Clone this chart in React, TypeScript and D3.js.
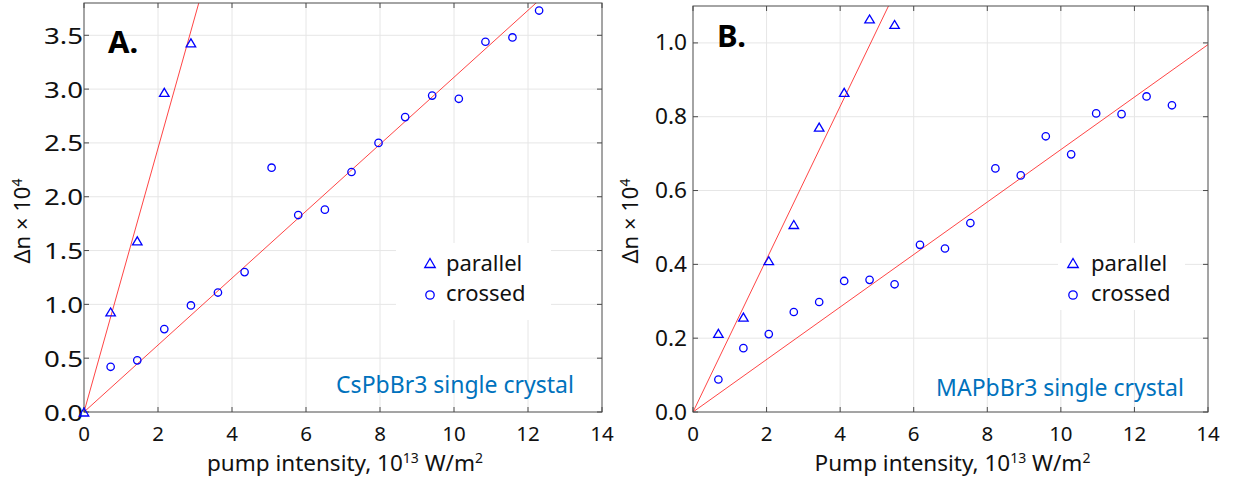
import { scaleLinear, line, format } from "d3";

const fontFamily = "'Noto Sans', 'Open Sans', sans-serif";

const xTicks = [0, 2, 4, 6, 8, 10, 12, 14];

// panel A: CsPbBr3
const pumpParallelA = [0, 0.72, 1.44, 2.17, 2.89];
const dnParallelA = [0, 0.93, 1.59, 2.97, 3.43];
const pumpCrossedA = [
  0.72, 1.44, 2.17, 2.89, 3.62, 4.34, 5.07, 5.79, 6.51, 7.23, 7.96, 8.68, 9.41,
  10.13, 10.85, 11.58, 12.3,
];
const dnCrossedA = [
  0.42, 0.48, 0.77, 0.99, 1.11, 1.3, 2.27, 1.83, 1.88, 2.23, 2.5, 2.74, 2.94,
  2.91, 3.44, 3.48, 3.73,
];
const fitSlopesA = [1.225, 0.311];
const yTicksA = [0, 0.5, 1, 1.5, 2, 2.5, 3, 3.5];

// panel B: MAPbBr3
const pumpParallelB = [0.69, 1.37, 2.06, 2.74, 3.43, 4.11, 4.8, 5.48];
const dnParallelB = [0.213, 0.257, 0.41, 0.508, 0.772, 0.866, 1.065, 1.05];
const pumpCrossedB = [
  0.69, 1.37, 2.06, 2.74, 3.43, 4.11, 4.8, 5.48, 6.17, 6.85, 7.54, 8.22, 8.91,
  9.59, 10.28, 10.96, 11.65, 12.33, 13.02,
];
const dnCrossedB = [
  0.088, 0.173, 0.211, 0.271, 0.298, 0.355, 0.358, 0.346, 0.453, 0.443, 0.512,
  0.66, 0.641, 0.747, 0.698, 0.809, 0.807, 0.855, 0.831,
];
const fitSlopesB = [0.207, 0.0711];
const yTicksB = [0, 0.2, 0.4, 0.6, 0.8, 1.0];

const seriesNames = ["parallel", "crossed"];

const blue = "#0000ff";
const red = "#ff3030";
const gridColor = "#e6e6e6";
const frameColor = "#4a4a4a";
const noteColor = "#0072bd";
const fmt = format(".1f");

const Triangle = ({ x, y, w = 9.5, h = 8 }) => (
  <path
    d={`M${x - w / 2},${y + h / 2}L${x + w / 2},${y + h / 2}L${x},${y - h / 2}Z`}
    fill="none"
    stroke={blue}
    strokeWidth={1.3}
  />
);

const Circle = ({ x, y, r = 3.7 }) => (
  <circle cx={x} cy={y} r={r} fill="none" stroke={blue} strokeWidth={1.3} />
);

const Panel = ({
  id,
  box,
  yMax,
  yTicks,
  pumpP,
  dnP,
  pumpC,
  dnC,
  slopes,
  tag,
  tagPos,
  note,
  notePos,
  xWord,
  yLabelX,
  yTickEnd,
  yTickDy,
  yTickWidth,
  legend,
}) => {
  const xScale = scaleLinear().domain([0, 14]).range([box.left, box.right]);
  const yScale = scaleLinear().domain([0, yMax]).range([box.bottom, box.top]);
  const fitLine = line()
    .x((d) => xScale(d[0]))
    .y((d) => yScale(d[1]));
  const tickLen = 5;

  return (
    <g fontFamily={fontFamily}>
      <defs>
        <clipPath id={`clip-${id}`}>
          <rect
            x={box.left}
            y={box.top}
            width={box.right - box.left}
            height={box.bottom - box.top}
          />
        </clipPath>
      </defs>
      {/* grid */}
      {xTicks.slice(1, -1).map((t) => (
        <line
          key={`gx${t}`}
          x1={xScale(t)}
          x2={xScale(t)}
          y1={box.top}
          y2={box.bottom}
          stroke={gridColor}
        />
      ))}
      {yTicks.slice(1).map((t) => (
        <line
          key={`gy${t}`}
          x1={box.left}
          x2={box.right}
          y1={yScale(t)}
          y2={yScale(t)}
          stroke={gridColor}
        />
      ))}
      {/* legend box hides the grid */}
      <rect
        x={legend.x0}
        y={legend.y0}
        width={legend.x1 - legend.x0}
        height={legend.y1 - legend.y0}
        fill="white"
      />
      {/* fits */}
      <g clipPath={`url(#clip-${id})`}>
        {slopes.map((s, i) => (
          <path
            key={i}
            d={fitLine([
              [0, 0],
              [14, 14 * s],
            ])}
            fill="none"
            stroke={red}
            strokeWidth={0.9}
          />
        ))}
      </g>
      {/* frame + ticks */}
      <rect
        x={box.left}
        y={box.top}
        width={box.right - box.left}
        height={box.bottom - box.top}
        fill="none"
        stroke={frameColor}
      />
      {xTicks.map((t) => (
        <g key={`tx${t}`}>
          <line
            x1={xScale(t)}
            x2={xScale(t)}
            y1={box.bottom}
            y2={box.bottom - tickLen}
            stroke={frameColor}
          />
          <line
            x1={xScale(t)}
            x2={xScale(t)}
            y1={box.top}
            y2={box.top + tickLen}
            stroke={frameColor}
          />
          <text
            x={xScale(t)}
            y={box.bottom + 29}
            textAnchor="middle"
            fontSize={20.5}
            fill="#111"
          >
            {t}
          </text>
        </g>
      ))}
      {yTicks.map((t) => (
        <g key={`ty${t}`}>
          <line
            x1={box.left}
            x2={box.left + tickLen}
            y1={yScale(t)}
            y2={yScale(t)}
            stroke={frameColor}
          />
          <line
            x1={box.right}
            x2={box.right - tickLen}
            y1={yScale(t)}
            y2={yScale(t)}
            stroke={frameColor}
          />
          <text
            x={yTickEnd}
            y={yScale(t) + yTickDy}
            textAnchor="end"
            fontSize={21}
            fill="#111"
            textLength={yTickWidth}
            lengthAdjust="spacingAndGlyphs"
          >
            {fmt(t)}
          </text>
        </g>
      ))}
      {/* data */}
      {pumpC.map((p, i) => (
        <Circle key={`c${i}`} x={xScale(p)} y={yScale(dnC[i])} />
      ))}
      {pumpP.map((p, i) => (
        <Triangle key={`p${i}`} x={xScale(p)} y={yScale(dnP[i])} />
      ))}
      {/* legend */}
      <Triangle x={legend.mx} y={legend.my} w={10.5} h={9} />
      <text x={legend.tx} y={legend.my + 8} fontSize={22} fill="#111">
        {seriesNames[0]}
      </text>
      <Circle x={legend.mx} y={legend.my + 32} r={4.2} />
      <text x={legend.tx} y={legend.my + 38} fontSize={22} fill="#111">
        {seriesNames[1]}
      </text>
      {/* panel tag + note */}
      <text
        x={tagPos[0]}
        y={tagPos[1]}
        fontSize={31}
        fontWeight="bold"
        fill="#000"
      >
        {tag}
      </text>
      <text
        x={notePos[0]}
        y={notePos[1]}
        textAnchor="middle"
        fontSize={23}
        fill={noteColor}
      >
        {note}
      </text>
      {/* axis labels */}
      <text
        x={(box.left + box.right) / 2 + 2}
        y={471}
        textAnchor="middle"
        fontSize={22.5}
        fill="#111"
      >
        {xWord} intensity, 10
        <tspan fontSize={14} dy={-8}>
          13
        </tspan>
        <tspan dy={8}> W/m</tspan>
        <tspan fontSize={14} dy={-8}>
          2
        </tspan>
      </text>
      <text
        transform={`translate(${yLabelX},221) rotate(-90)`}
        textAnchor="middle"
        fontSize={22}
        fill="#111"
      >
        Δn × 10
        <tspan fontSize={14} dy={-8}>
          4
        </tspan>
      </text>
    </g>
  );
};

const App = () => {
  return (
    <svg
      width={1247}
      height={483}
      style={{ position: "absolute", left: 0, top: 0, background: "white" }}
    >
      <rect width={1247} height={483} fill="white" />
      <Panel
        id="a"
        box={{ left: 84, right: 602, top: 3, bottom: 412 }}
        yMax={3.8}
        yTicks={yTicksA}
        pumpP={pumpParallelA}
        dnP={dnParallelA}
        pumpC={pumpCrossedA}
        dnC={dnCrossedA}
        slopes={fitSlopesA}
        tag="A."
        tagPos={[108, 53]}
        note="CsPbBr3 single crystal"
        notePos={[455, 393]}
        xWord="pump"
        yLabelX={30}
        yTickEnd={83}
        yTickDy={8.5}
        yTickWidth={39}
        legend={{ x0: 396, x1: 551, y0: 243, y1: 320, mx: 430, my: 263, tx: 446 }}
      />
      <Panel
        id="b"
        box={{ left: 693, right: 1208, top: 6, bottom: 412 }}
        yMax={1.1}
        yTicks={yTicksB}
        pumpP={pumpParallelB}
        dnP={dnParallelB}
        pumpC={pumpCrossedB}
        dnC={dnCrossedB}
        slopes={fitSlopesB}
        tag="B."
        tagPos={[717, 47]}
        note="MAPbBr3 single crystal"
        notePos={[1060, 396]}
        xWord="Pump"
        yLabelX={638}
        yTickEnd={687}
        yTickDy={7.5}
        yTickWidth={32}
        legend={{ x0: 1058, x1: 1185, y0: 243, y1: 310, mx: 1073, my: 263, tx: 1091 }}
      />
    </svg>
  );
};

export default App;
